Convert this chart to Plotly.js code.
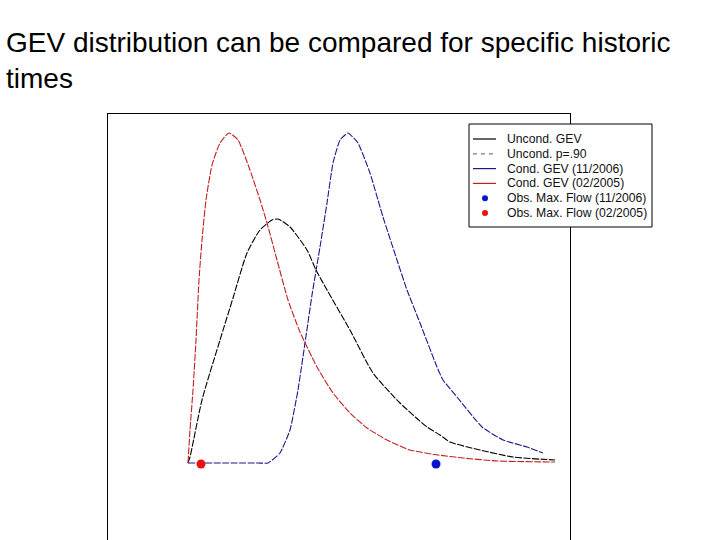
<!DOCTYPE html>
<html>
<head>
<meta charset="utf-8">
<script src="https://cdn.plot.ly/plotly-2.35.2.min.js"></script>
<style>
  html, body { margin: 0; padding: 0; background: #fff; }
  #chart { width: 720px; height: 540px; }
</style>
</head>
<body>
<div id="chart"></div>
<script>
// values (flow on x, density on y, arbitrary units)
const redX   = [0, 4, 10, 16, 22, 28, 36, 48, 64, 82, 100, 124, 144, 158, 178, 200, 224, 258, 290, 324, 358, 398, 444, 500, 550, 618, 734];
const redY   = [0, 0.33, 0.73, 1.23, 1.83, 2.23, 2.63, 2.98, 3.20, 3.30, 3.23, 2.93, 2.63, 2.40, 2.03, 1.63, 1.31, 0.96, 0.70, 0.50, 0.35, 0.23, 0.13, 0.08, 0.05, 0.02, 0.01];

const blackX = [0, 4, 28, 64, 90, 118, 144, 168, 180, 204, 238, 256, 278, 324, 370, 424, 478, 504, 524, 584, 650, 734];
const blackY = [0, 0.06, 0.63, 1.23, 1.65, 2.10, 2.33, 2.43, 2.44, 2.36, 2.13, 1.93, 1.73, 1.33, 0.90, 0.60, 0.36, 0.28, 0.21, 0.13, 0.06, 0.03];

const blueX  = [0, 140, 160, 184, 204, 220, 234, 248, 264, 278, 290, 304, 320, 340, 364, 390, 418, 438, 464, 498, 510, 538, 588, 630, 678, 710];
const blueY  = [0, 0, 0, 0.10, 0.33, 0.73, 1.20, 1.68, 2.16, 2.60, 3.00, 3.23, 3.30, 3.20, 2.90, 2.46, 2.03, 1.73, 1.40, 0.96, 0.83, 0.66, 0.36, 0.23, 0.16, 0.10];

// observed maxima
const obsNovX = [496];
const obsNovY = [-0.01];
const obsFebX = [26];
const obsFebY = [-0.01];

// legend labels, in order
const legendLabels = [
  'Uncond. GEV',
  'Uncond. p=.90',
  'Cond. GEV (11/2006)',
  'Cond. GEV (02/2005)',
  'Obs. Max. Flow (11/2006)',
  'Obs. Max. Flow (02/2005)'
];

const colBlack = '#000000', colGrey = '#808080', colNavy = '#1a1a8c', colRed = '#c02020';
const colDotBlue = '#0a14d0', colDotRed = '#ee1111';
const dash = '7px,1.5px';

const traces = [
  { x: blackX, y: blackY, mode: 'lines', line: { color: colBlack, width: 1.1, dash: dash, shape: 'spline', smoothing: 0.6 } },
  { x: blueX,  y: blueY,  mode: 'lines', line: { color: colNavy,  width: 1.1, dash: dash, shape: 'spline', smoothing: 0.4 } },
  { x: redX,   y: redY,   mode: 'lines', line: { color: colRed,   width: 1.1, dash: dash, shape: 'spline', smoothing: 0.5 } },
  { x: obsNovX, y: obsNovY, mode: 'markers', marker: { color: colDotBlue, size: 9 } },
  { x: obsFebX, y: obsFebY, mode: 'markers', marker: { color: colDotRed, size: 9 } }
];

// plot area in pixels: x 108..570, y 114..540
const PX = px => (px - 108) / 462;
const PY = py => (540 - py) / 426;

// hand-drawn legend (base R style: compact rows)
const legX0 = 469, legX1 = 652, legY0 = 124, legY1 = 227;
const rowY = i => 139 + i * 14.8;
const legStyle = [
  { kind: 'line', color: colBlack, dash: 'solid' },
  { kind: 'line', color: colGrey, dash: '4px,4px' },
  { kind: 'line', color: colNavy, dash: 'solid' },
  { kind: 'line', color: colRed, dash: 'solid' },
  { kind: 'dot', color: colDotBlue },
  { kind: 'dot', color: colDotRed }
];

const shapes = [
  { type: 'rect', xref: 'paper', yref: 'paper', x0: PX(legX0), x1: PX(legX1), y0: PY(legY1), y1: PY(legY0),
    line: { color: '#000', width: 1 }, fillcolor: '#ffffff', layer: 'above' }
];
const annotations = [];
legendLabels.forEach((lab, i) => {
  const s = legStyle[i];
  const y = rowY(i);
  if (s.kind === 'line') {
    shapes.push({ type: 'line', xref: 'paper', yref: 'paper', x0: PX(473), x1: PX(496), y0: PY(y), y1: PY(y),
      line: { color: s.color, width: 1.2, dash: s.dash }, layer: 'above' });
  } else {
    shapes.push({ type: 'circle', xref: 'paper', yref: 'paper', x0: PX(482), x1: PX(488), y0: PY(y + 3), y1: PY(y - 3),
      line: { color: s.color, width: 0 }, fillcolor: s.color, layer: 'above' });
  }
  annotations.push({ xref: 'paper', yref: 'paper', x: PX(505), y: PY(y), xanchor: 'left', yanchor: 'middle',
    text: lab, showarrow: false, font: { size: 12.2, color: '#111' } });
});

const layout = {
  width: 720, height: 540,
  margin: { l: 108, r: 150, t: 114, b: 0, pad: 0 },
  paper_bgcolor: '#ffffff', plot_bgcolor: '#ffffff',
  font: { family: 'Arial, "Liberation Sans", sans-serif', color: '#000' },
  title: {
    text: 'GEV distribution can be compared for specific historic<br>times',
    font: { size: 28, color: '#000' },
    xref: 'container', x: 6 / 720, xanchor: 'left',
    yref: 'container', y: 1 - 52 / 540, yanchor: 'top'
  },
  xaxis: {
    range: [-160, 764], side: 'top',
    showline: true, linecolor: '#000', linewidth: 1, mirror: false,
    showgrid: false, zeroline: false, showticklabels: false, ticks: ''
  },
  yaxis: {
    range: [-0.77, 3.49],
    showline: true, linecolor: '#000', linewidth: 1, mirror: true,
    showgrid: false, zeroline: false, showticklabels: false, ticks: ''
  },
  showlegend: false,
  shapes: shapes,
  annotations: annotations
};

Plotly.newPlot('chart', traces, layout, { displayModeBar: false, staticPlot: true });
</script>
</body>
</html>
